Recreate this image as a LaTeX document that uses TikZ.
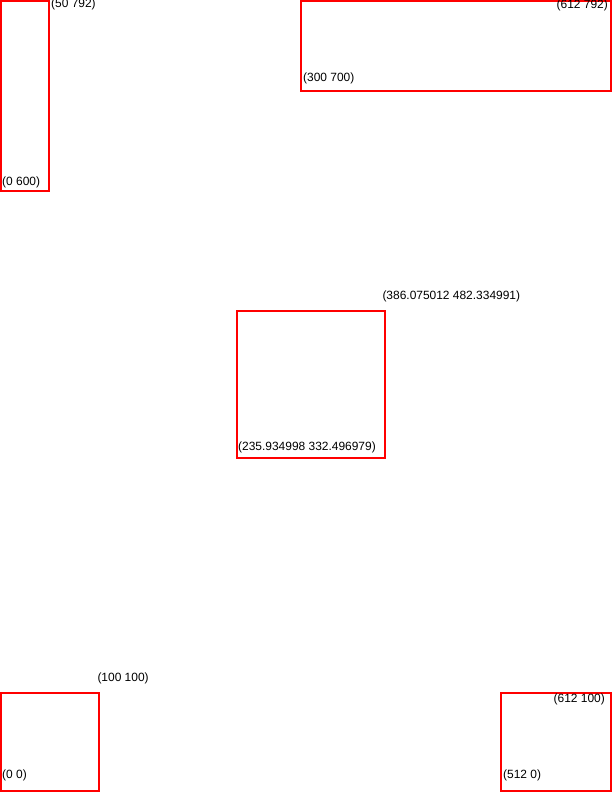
\documentclass[tikz,border=0pt]{standalone}
\usepackage{fontspec}
\setmainfont{Liberation Sans}
\usepackage{tikz}
\usetikzlibrary{calc, positioning}
\tikzset{
    khung/.style={draw=red, line width=2bp},
    nhan/.style={inner sep=0pt, anchor=base west, font=\fontsize{12}{14}\selectfont},
    nhanphai/.style={nhan, anchor=base east},
}

\begin{document}
\begin{tikzpicture}[x=1bp, y=1bp]
    \useasboundingbox (0,0) rectangle (612,792);
    % Các khung đỏ (nét vẽ nằm phía trong khung)
    \draw[khung] (1,601) rectangle (49,791);
    \draw[khung] (301,701) rectangle (611,791);
    \draw[khung] (236.935,333.497) rectangle (385.075,481.335);
    \draw[khung] (1,1) rectangle (99,99);
    \draw[khung] (501,1) rectangle (611,99);

    % Nhãn góc dưới trái của mỗi khung
    \node[nhan] (trenTrai) at (2,606) {(0 600)};
    \node[nhan] (trenPhai) at (303,710.5) {(300 700)};
    \node[nhan] (giua) at (238,341) {(235.934998 332.496979)};
    \node[nhan] (duoiTrai) at (2,13.5) {(0 0)};
    \node[nhan] (duoiPhai) at (503,13) {(512 0)};

    % Nhãn góc trên phải của mỗi khung
    \node[nhan] (trenTraiB) at (51,784) {(50 792)};
    \node[nhanphai] (trenPhaiB) at (608,783) {(612 792)};
    \node[nhan] (giuaB) at (382.3,492.3) {(386.075012 482.334991)};
    \node[nhan] (duoiTraiB) at (97.3,110.3) {(100 100)};
    \node[nhanphai] (duoiPhaiB) at (605,89.3) {(612 100)};
\end{tikzpicture}
\end{document}
